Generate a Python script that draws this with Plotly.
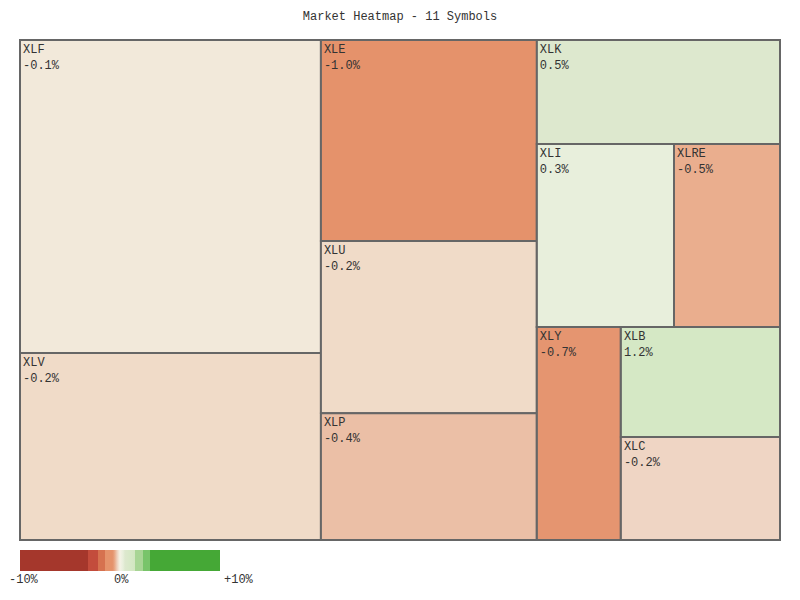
import plotly.graph_objects as go

symbols = ["XLF", "XLV", "XLE", "XLU", "XLP", "XLK", "XLI", "XLRE", "XLY", "XLB", "XLC"]
weights = [94.2, 56.3, 43.4, 37.2, 27.4, 25.3, 25.1, 19.4, 17.9, 17.5, 16.4]
changes = [-0.1, -0.2, -1.0, -0.2, -0.4, 0.5, 0.3, -0.5, -0.7, 1.2, -0.24]

# tile grouping that reproduces the reference arrangement (slice-dice tiling)
group_ids = ["A", "B", "C", "C1", "C2", "C2a"]
group_parents = ["", "", "", "C", "C", "C2"]
symbol_groups = ["A", "A", "B", "B", "B", "C", "C1", "C1", "C2", "C2a", "C2a"]

scale_labels = ["-10%", "0%", "+10%"]

cmin, cmax = -10, 10
stops = [
    (-10, "#a5372c"), (-3.2, "#a5372c"),
    (-3.2, "#c34c3c"), (-2.2, "#c34c3c"),
    (-2.2, "#d6714f"), (-1.5, "#d6714f"),
    (-1.5, "#e5926b"), (-0.8, "#e5926b"),
    (-0.7, "#e59570"), (-0.5, "#eaae8e"), (-0.4, "#ebbfa6"),
    (-0.24, "#efd5c4"), (-0.2, "#f0dbc8"), (-0.1, "#f2e9da"),
    (0.0, "#f5f2e6"), (0.3, "#e8efdc"), (0.5, "#dde8ce"),
    (1.2, "#d5e8c5"), (1.5, "#d2e6c1"),
    (1.5, "#a8d595"), (2.3, "#a8d595"),
    (2.3, "#78c46a"), (3.0, "#78c46a"),
    (3.0, "#45a836"), (10, "#45a836"),
]
colorscale = [[(v - cmin) / (cmax - cmin), c] for v, c in stops]

# build node list in drawing order
gparent = dict(zip(group_ids, group_parents))
ids, parents, labels, values, colors, texts, templates = [], [], [], [], [], [], []
emitted = set()
for sym, w, ch, g in zip(symbols, weights, changes, symbol_groups):
    chain = []
    cur = g
    while cur:
        chain.append(cur)
        cur = gparent[cur]
    for grp in reversed(chain):
        if grp not in emitted:
            emitted.add(grp)
            ids.append(grp); parents.append(gparent[grp]); labels.append("")
            values.append(0); colors.append(0); texts.append(""); templates.append("")
    ids.append(sym); parents.append(g); labels.append(sym)
    values.append(w); colors.append(ch); texts.append(f"{ch:.1f}%")
    templates.append("%{label}<br>%{text}")

font = "Liberation Mono, DejaVu Sans Mono, monospace"

fig = go.Figure(go.Treemap(
    ids=ids,
    labels=labels,
    parents=parents,
    values=values,
    branchvalues="remainder",
    sort=False,
    text=texts,
    texttemplate=templates,
    textposition="top left",
    textfont=dict(family=font, size=12, color="#333333"),
    marker=dict(
        colors=colors,
        colorscale=colorscale,
        cmin=cmin, cmax=cmax,
        line=dict(color="#666666", width=2),
        pad=dict(t=0, l=0, r=0, b=0),
        showscale=True,
        colorbar=dict(
            orientation="h",
            x=0, xanchor="left", xref="paper",
            y=-0.02, yanchor="top", yref="paper",
            lenmode="pixels", len=200,
            thickness=21,
            xpad=0, ypad=0,
            outlinewidth=0,
            ticks="",
            showticklabels=False,
        ),
    ),
    tiling=dict(packing="slice-dice", pad=0),
    pathbar=dict(visible=False),
    hoverinfo="label+text",
))

# colour-scale labels below the bar (paper coords: 0 -> x=20px, 1 -> x=780px)
label_x = [24, 121, 239]
for lx, txt in zip(label_x, scale_labels):
    fig.add_annotation(
        x=(lx - 20) / 760, y=-(580 - 540) / 500, xref="paper", yref="paper",
        text=txt, showarrow=False, xanchor="center", yanchor="middle",
        font=dict(family=font, size=12, color="#333333"),
    )

fig.update_layout(
    width=800, height=600,
    margin=dict(l=20, r=20, t=40, b=60),
    paper_bgcolor="white",
    title=dict(text="Market Heatmap - 11 Symbols", x=0.5, xanchor="center",
               y=1 - 16 / 600, yanchor="middle",
               font=dict(family=font, size=12, color="#333333")),
)

fig.write_html("out.html", config={"displayModeBar": False},
               post_script="document.body.style.margin='0';")
